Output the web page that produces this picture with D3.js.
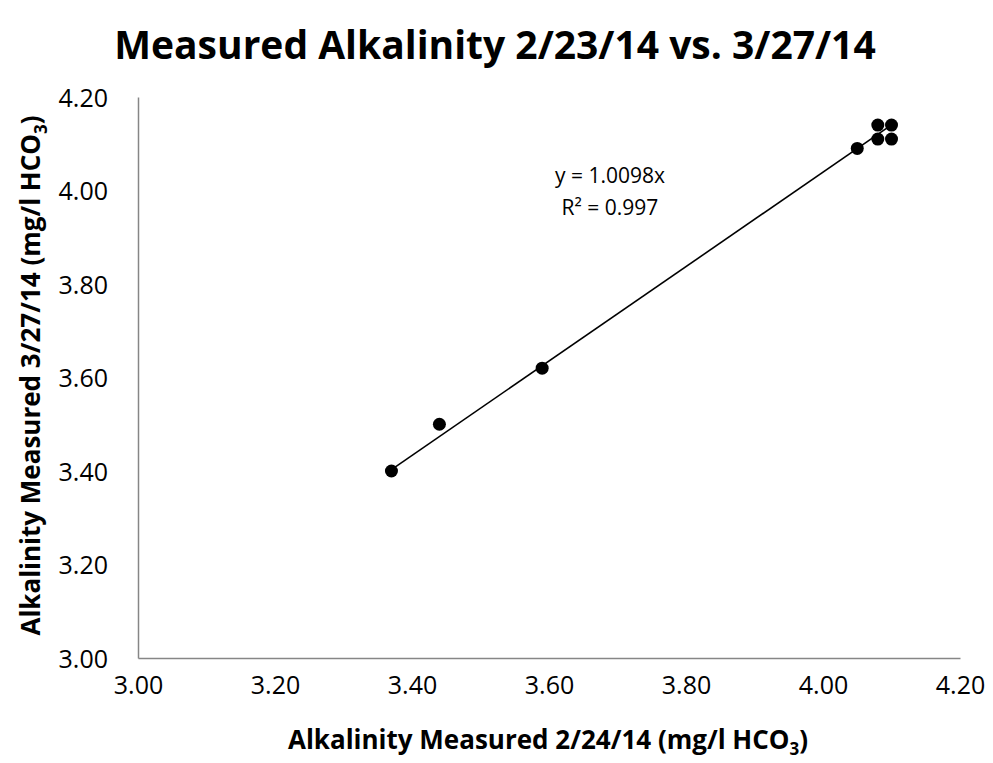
<!DOCTYPE html>
<html>
  <head>
    <meta http-equiv="Content-Type" content="text/html;charset=utf-8" />
    <title>Measured Alkalinity</title>
    <script type="text/javascript" src="https://d3js.org/d3.v7.min.js"></script>
    <style>
      body { margin: 0; background: #fff; }
      text { font-family: "Open Sans", sans-serif; }
    </style>
  </head>
  <body>
    <div id="chart"></div>

    <script type="text/javascript">
      var feb24 = [3.37, 3.44, 3.59, 4.05, 4.08, 4.08, 4.10, 4.10];
      var mar27 = [3.40, 3.50, 3.62, 4.09, 4.14, 4.11, 4.14, 4.11];
      var slope = 1.0098;
      var eqLabels = ["y = 1.0098x", "R² = 0.997"];
      var tickValues = [3.0, 3.2, 3.4, 3.6, 3.8, 4.0, 4.2];

      var data = feb24.map((x, i) => ({ x: x, y: mar27[i] }));

      var W = 993, H = 763;
      var margin = { left: 138, right: 33, top: 97, bottom: 105 };
      var width = W - margin.left - margin.right;
      var height = H - margin.top - margin.bottom;

      var svg = d3.select("#chart").append("svg")
        .attr("width", W)
        .attr("height", H);

      var g = svg.append("g")
        .attr("transform", "translate(" + margin.left + "," + margin.top + ")");

      var x = d3.scaleLinear().domain([3.0, 4.2]).range([0, width]);
      var y = d3.scaleLinear().domain([3.0, 4.2]).range([height, 0]);

      var xAxis = d3.axisBottom(x).tickValues(tickValues)
        .tickFormat(d3.format(".2f")).tickSize(0).tickPadding(18);
      var yAxis = d3.axisLeft(y).tickValues(tickValues)
        .tickFormat(d3.format(".2f")).tickSize(0).tickPadding(30);

      var gX = g.append("g")
        .attr("transform", "translate(0," + height + ")")
        .call(xAxis);
      var gY = g.append("g").call(yAxis);

      [gX, gY].forEach(a => {
        a.select(".domain").attr("stroke", "#868686").attr("stroke-width", 1.5);
        a.selectAll("text")
          .attr("fill", "#000")
          .style("font-size", "25px")
          .style("font-family", "Open Sans, sans-serif");
      });
      gY.selectAll("text").attr("dy", "0.36em");

      // trendline through origin, spanning data range
      var xr = d3.extent(feb24);
      g.append("line")
        .attr("x1", x(xr[0])).attr("y1", y(slope * xr[0]))
        .attr("x2", x(xr[1])).attr("y2", y(slope * xr[1]))
        .attr("stroke", "#000")
        .attr("stroke-width", 1.6);

      g.selectAll("circle.pt")
        .data(data)
        .enter()
        .append("circle")
        .attr("class", "pt")
        .attr("cx", d => x(d.x))
        .attr("cy", d => y(d.y))
        .attr("r", 6.5)
        .attr("fill", "#000");

      // equation label
      g.selectAll("text.eq")
        .data(eqLabels)
        .enter()
        .append("text")
        .attr("class", "eq")
        .attr("x", x(3.689))
        .attr("y", (d, i) => y(4.015) + i * 32)
        .attr("text-anchor", "middle")
        .style("font-size", "21px")
        .attr("fill", "#000")
        .text(d => d);

      // titles
      svg.append("text")
        .attr("x", 495)
        .attr("y", 59)
        .attr("text-anchor", "middle")
        .style("font-size", "39px")
        .style("font-weight", "bold")
        .text("Measured Alkalinity 2/23/14 vs. 3/27/14");

      var xt = svg.append("text")
        .attr("x", 548)
        .attr("y", 749)
        .attr("text-anchor", "middle")
        .style("font-size", "26px")
        .style("font-weight", "bold");
      xt.append("tspan").text("Alkalinity Measured 2/24/14 (mg/l HCO");
      xt.append("tspan").attr("dy", 6).style("font-size", "17px").text("3");
      xt.append("tspan").attr("dy", -6).text(")");

      var yt = svg.append("text")
        .attr("transform", "translate(40," + (margin.top + height / 2 - 2) + ") rotate(-90)")
        .attr("text-anchor", "middle")
        .style("font-size", "26px")
        .style("font-weight", "bold");
      yt.append("tspan").text("Alkalinity Measured 3/27/14 (mg/l HCO");
      yt.append("tspan").attr("dy", 7).style("font-size", "17px").text("3");
      yt.append("tspan").attr("dy", -7).text(")");
    </script>
  </body>
</html>
